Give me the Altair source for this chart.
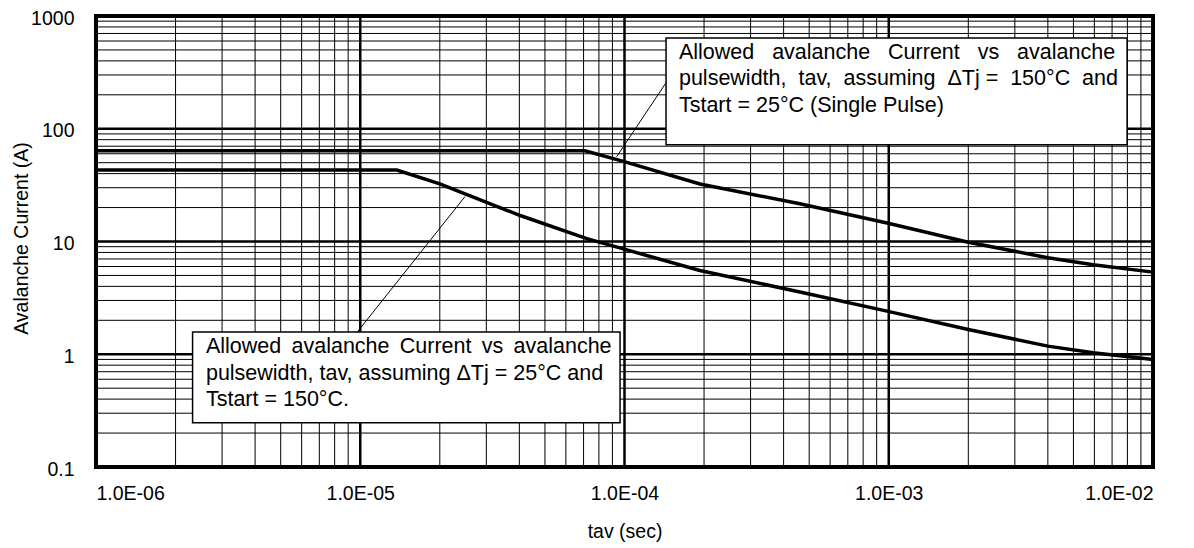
import json
import altair as alt
import pandas as pd

# ---------------- data ----------------
upper_tav = [1e-6, 7.09e-5, 9.9e-5, 1.93e-4, 4.61e-4, 9.95e-4, 2.0e-3, 4.0e-3, 5.94e-3, 1e-2]
upper_iav = [63.8, 63.8, 51.4, 32.4, 21.6, 14.5, 9.86, 7.18, 6.22, 5.35]

lower_tav = [1e-6, 1.375e-5, 2.0e-5, 4.03e-5, 7.2e-5, 9.9e-5, 1.93e-4, 4.61e-4,
             9.95e-4, 2.0e-3, 4.0e-3, 5.94e-3, 1e-2]
lower_iav = [43.1, 43.1, 32.4, 17.0, 10.6, 8.6, 5.53, 3.56, 2.40, 1.66, 1.18, 1.03, 0.90]

x_ticks = [1e-6, 1e-5, 1e-4, 1e-3, 1e-2]
x_tick_labels = ["1.0E-06", "1.0E-05", "1.0E-04", "1.0E-03", "1.0E-02"]
y_ticks = [0.1, 1, 10, 100, 1000]
y_tick_labels = ["0.1", "1", "10", "100", "1000"]
minor_steps = [2, 3, 4, 5, 6, 7, 8, 9]

NB = "\u00a0"
upper_note = [
    (" " + NB * 2).join(["Allowed", "avalanche", "Current", "vs", "avalanche"]),
    "pulsewidth," + NB + " tav," + NB + " assuming " + NB + "\u0394Tj = " + NB + "150°C " + NB + "and",
    "Tstart = 25°C (Single Pulse)",
]
lower_note = [
    (" \u2009").join(["Allowed", "avalanche", "Current", "vs", "avalanche"]),
    "pulsewidth, tav, assuming \u0394Tj = 25°C and",
    "Tstart = 150°C.",
]
# annotation placement (data coordinates)
upper_box = dict(x=1.436e-4, x2=7.98e-3, y=638, y2=72.1)
upper_text_at = dict(x=1.607e-4, y=416)
upper_leader = dict(x=1.436e-4, y=255.5, x2=9.34e-5, y2=56.5)
lower_box = dict(x=2.32e-6, x2=9.62e-5, y=1.575, y2=0.2466)
lower_text_at = dict(x=2.606e-6, y=1.02)
lower_leader = dict(x=2.49e-5, y=25.0, x2=9.745e-6, y2=1.575)

# ---------------- tables ----------------
curves = pd.concat([
    pd.DataFrame({"tav": upper_tav, "iav": upper_iav, "curve": "dTj150"}),
    pd.DataFrame({"tav": lower_tav, "iav": lower_iav, "curve": "dTj25"}),
])

vminor = [d * m for d in x_ticks[:-1] for m in minor_steps]
hminor = [d * m for d in y_ticks[:-1] for m in minor_steps]
vgrid = pd.DataFrame({"v": vminor + x_ticks[1:-1],
                      "major": [False] * len(vminor) + [True] * (len(x_ticks) - 2),
                      "lo": y_ticks[0], "hi": y_ticks[-1]})
hgrid = pd.DataFrame({"v": hminor + y_ticks[1:-1],
                      "major": [False] * len(hminor) + [True] * (len(y_ticks) - 2),
                      "lo": x_ticks[0], "hi": x_ticks[-1]})

boxes = pd.DataFrame([upper_box, lower_box])
leaders = pd.DataFrame([upper_leader, lower_leader])
notes = pd.DataFrame([
    dict(upper_text_at, text="\n".join(upper_note)),
    dict(lower_text_at, text="\n".join(lower_note)),
])

xs = alt.Scale(type="log", domain=[x_ticks[0], x_ticks[-1]], nice=False)
ys = alt.Scale(type="log", domain=[y_ticks[0], y_ticks[-1]], nice=False)
FONT = "Liberation Sans"

x_label_expr = json.dumps(x_tick_labels) + "[round(log(datum.value)/LN10)+6]"
y_label_expr = json.dumps(y_tick_labels) + "[round(log(datum.value)/LN10)+1]"

x_axis = alt.Axis(values=x_ticks, labelExpr=x_label_expr, title="tav (sec)",
                  grid=False, ticks=False, tickSize=0, domain=False,
                  labelPadding=32, labelBaseline="alphabetic",
                  labelFontSize=19.5, labelColor="black", labelFont=FONT,
                  titleFontSize=19.5, titleFontWeight="normal", titleColor="black",
                  titleFont=FONT, titleBaseline="alphabetic", titleY=70)
y_axis = alt.Axis(values=y_ticks, labelExpr=y_label_expr, title="Avalanche Current (A)",
                  grid=False, ticks=False, tickSize=0, domain=False,
                  labelPadding=22, labelOffset=2, labelFontSize=19.5, labelColor="black",
                  labelFont=FONT,
                  titleFontSize=19.5, titleFontWeight="normal", titleColor="black",
                  titleFont=FONT, titleBaseline="alphabetic", titleX=-69, titleY=222,
                  titleAngle=270)

vgrid_layer = alt.Chart(vgrid).mark_rule(color="black").encode(
    x=alt.X("v:Q", scale=xs, axis=x_axis),
    y=alt.Y("lo:Q", scale=ys, axis=y_axis),
    y2="hi:Q",
    strokeWidth=alt.condition("datum.major", alt.value(2.5), alt.value(1)),
)
hgrid_layer = alt.Chart(hgrid).mark_rule(color="black").encode(
    y=alt.Y("v:Q", scale=ys, axis=y_axis),
    x=alt.X("lo:Q", scale=xs, axis=x_axis),
    x2="hi:Q",
    strokeWidth=alt.condition("datum.major", alt.value(2.5), alt.value(1)),
)

curve_layer = alt.Chart(curves).mark_line(color="black", strokeWidth=3.5).encode(
    x=alt.X("tav:Q", scale=xs, axis=x_axis),
    y=alt.Y("iav:Q", scale=ys, axis=y_axis),
    detail="curve:N",
    order=alt.Order("tav:Q"),
)

leader_layer = alt.Chart(leaders).mark_rule(color="black", strokeWidth=1).encode(
    x=alt.X("x:Q", scale=xs, axis=x_axis),
    y=alt.Y("y:Q", scale=ys, axis=y_axis),
    x2="x2:Q",
    y2="y2:Q",
)

box_layer = alt.Chart(boxes).mark_rect(fill="white", stroke="black", strokeWidth=1.5).encode(
    x=alt.X("x:Q", scale=xs, axis=x_axis),
    x2="x2:Q",
    y=alt.Y("y:Q", scale=ys, axis=y_axis),
    y2="y2:Q",
)

text_layer = alt.Chart(notes).mark_text(
    align="left", baseline="alphabetic", fontSize=21.5, font=FONT, color="black",
    lineBreak="\n", lineHeight=26.5,
).encode(
    x=alt.X("x:Q", scale=xs, axis=x_axis),
    y=alt.Y("y:Q", scale=ys, axis=y_axis),
    text="text:N",
)

chart = alt.layer(
    vgrid_layer, hgrid_layer, curve_layer, leader_layer, box_layer, text_layer
).properties(
    width=1057, height=451,
    autosize=alt.AutoSizeParams(type="none"),
    padding={"left": 88, "top": 8, "right": 30, "bottom": 80},
    background="white",
).configure(
    font=FONT,
    view=alt.ViewConfig(stroke="black", strokeWidth=4),
)

chart.save("out.html", embed_options={"renderer": "svg", "actions": False})
